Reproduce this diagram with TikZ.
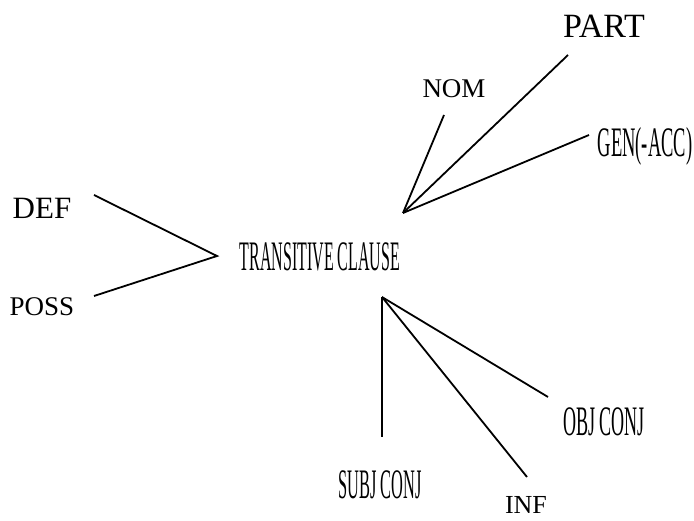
\documentclass[tikz,border=0pt]{standalone}
\usepackage{graphicx}
\usepackage{fontspec}
\setmainfont{Liberation Serif}
\begin{document}
\begin{tikzpicture}[x=1pt,y=-1pt,
  lbl/.style={inner sep=0pt,anchor=center},
  edge/.style={line width=1.8pt},
  thick edge/.style={line width=2.8pt}]
\useasboundingbox (0,0) rectangle (694,521);
% labels
\node[lbl] (def) at (42,208) {\fontsize{31}{36}\selectfont DEF};
\node[lbl] (poss) at (42,307) {\fontsize{27}{30}\selectfont POSS};
\node[lbl] (tc) at (320,257) {\fontsize{42}{46}\selectfont\scalebox{0.38}[1]{TRANSITIVE CLAUSE}};
\node[lbl] (nom) at (454,89) {\fontsize{27}{32}\selectfont NOM};
\node[lbl] (part) at (604,26) {\fontsize{34}{38}\selectfont PART};
\node[lbl] (gen) at (645,146) {\fontsize{42}{46}\selectfont\scalebox{0.44}[1]{GEN(-ACC)}};
\node[lbl] (subj) at (380,485) {\fontsize{42}{46}\selectfont\scalebox{0.39}[1]{SUBJ CONJ}};
\node[lbl] (obj) at (604,422) {\fontsize{42}{46}\selectfont\scalebox{0.43}[1]{OBJ CONJ}};
\node[lbl,anchor=base,text depth=0pt] (inf) at (526,513) {\fontsize{26}{30}\selectfont INF};
% connector points
\coordinate (vl) at (217,256);
\coordinate (defe) at (94,195);
\coordinate (posse) at (94,296);
\coordinate (vt) at (403,213);
\coordinate (nome) at (444,115);
\coordinate (parte) at (568,55);
\coordinate (gene) at (589,135);
\coordinate (vb) at (382,297);
\coordinate (subje) at (382,437);
\coordinate (infe) at (527,477);
\coordinate (obje) at (548,397);
% connectors
\draw[edge] (defe) -- (vl) -- (posse);
\draw[edge] (vt) -- (nome);
\draw[edge] (vt) -- (parte);
\draw[edge] (vt) -- (gene);
\draw[thick edge] (vb) -- (subje);
\draw[edge] (vb) -- (infe);
\draw[edge] (vb) -- (obje);
\end{tikzpicture}
\end{document}
